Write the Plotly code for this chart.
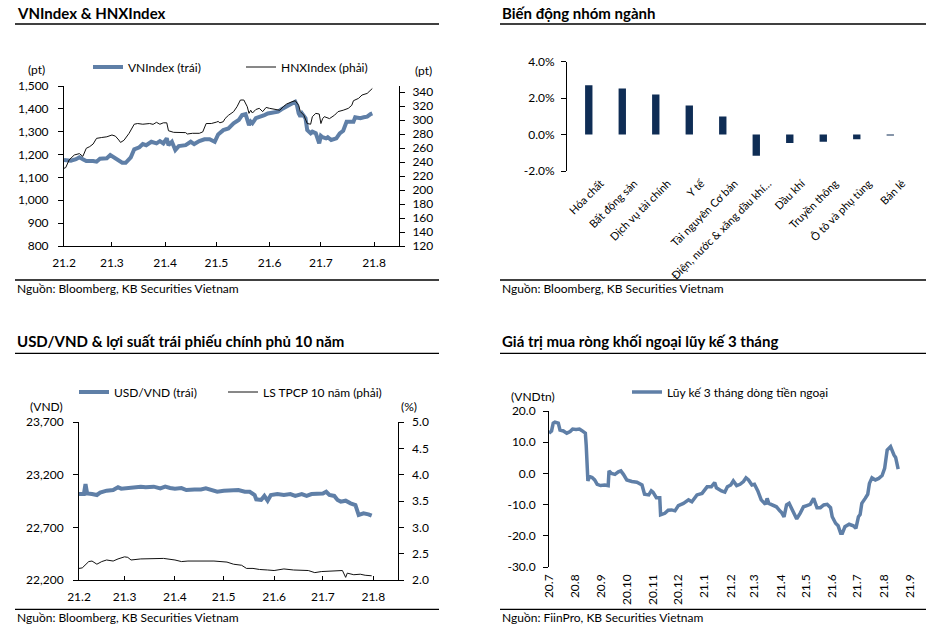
import plotly.graph_objects as go

# ---------------- DATA ----------------
vn_dates = ["2021-02-01","2021-02-05","2021-02-08","2021-02-10","2021-02-12","2021-02-14","2021-02-18","2021-02-20","2021-02-22","2021-02-26","2021-02-28",
            "2021-03-02","2021-03-04","2021-03-07","2021-03-09","2021-03-12","2021-03-14","2021-03-17","2021-03-19","2021-03-21","2021-03-24","2021-03-27","2021-03-29","2021-03-31",
            "2021-04-02","2021-04-03","2021-04-05","2021-04-07","2021-04-09","2021-04-13","2021-04-16","2021-04-18","2021-04-21","2021-04-24","2021-04-27","2021-04-29","2021-04-30",
            "2021-05-02","2021-05-05","2021-05-08","2021-05-11","2021-05-14","2021-05-16","2021-05-18","2021-05-20","2021-05-21","2021-05-22","2021-05-24","2021-05-27","2021-05-29","2021-05-31",
            "2021-06-03","2021-06-06","2021-06-08","2021-06-11","2021-06-13","2021-06-16","2021-06-17","2021-06-18","2021-06-19","2021-06-20","2021-06-22","2021-06-23","2021-06-25","2021-06-26","2021-06-28","2021-06-30",
            "2021-07-01","2021-07-02","2021-07-04","2021-07-05","2021-07-07","2021-07-10","2021-07-12","2021-07-14","2021-07-16","2021-07-20","2021-07-21","2021-07-24","2021-07-26","2021-07-28","2021-07-30","2021-07-31"]
vn_index = [1176,1173,1180,1188,1180,1172,1172,1169,1182,1184,1198,
            1188,1180,1164,1164,1188,1223,1232,1246,1241,1256,1249,1259,1249,
            1271,1241,1256,1220,1237,1241,1256,1246,1259,1267,1267,1259,1256,
            1288,1307,1314,1337,1351,1373,1377,1329,1344,1337,1359,1366,1373,1380,
            1383,1388,1398,1409,1421,1431,1416,1380,1366,1380,1359,1307,1293,1300,1293,1249,
            1282,1276,1271,1276,1264,1271,1293,1304,1344,1344,1363,1359,1363,1366,1377,1380]

hnx_dates = ["2021-02-01","2021-02-02","2021-02-04","2021-02-07","2021-02-10","2021-02-12","2021-02-14","2021-02-16","2021-02-18","2021-02-20","2021-02-23","2021-02-26",
             "2021-03-01","2021-03-03","2021-03-05","2021-03-06","2021-03-08","2021-03-11","2021-03-14","2021-03-16","2021-03-19","2021-03-23","2021-03-25","2021-03-27","2021-03-29","2021-03-31",
             "2021-04-02","2021-04-03","2021-04-06","2021-04-10","2021-04-13","2021-04-14","2021-04-17","2021-04-21","2021-04-23","2021-04-25","2021-04-28",
             "2021-05-01","2021-05-02","2021-05-03","2021-05-05","2021-05-06","2021-05-08","2021-05-11","2021-05-13","2021-05-15","2021-05-17","2021-05-19","2021-05-20","2021-05-21","2021-05-22","2021-05-24","2021-05-26","2021-05-28","2021-05-30",
             "2021-06-01","2021-06-04","2021-06-07","2021-06-09","2021-06-11","2021-06-14","2021-06-16","2021-06-18","2021-06-19","2021-06-21","2021-06-23","2021-06-25","2021-06-26","2021-06-28","2021-06-30",
             "2021-07-01","2021-07-02","2021-07-03","2021-07-06","2021-07-09","2021-07-11","2021-07-14","2021-07-17","2021-07-19","2021-07-20","2021-07-23","2021-07-25","2021-07-28","2021-07-31"]
hnx_index = [231,232,243,250,252,248,259.6,262,265.7,273.8,275,276,
             278.6,277,271.4,268,271,281,294,295,294,295,293.8,296.7,294,296,
             296,284.7,282.4,282.4,282,280,281,281,283,295,295,
             297,298,296,297.6,302,306.7,311.9,319,328.6,328.6,319,309.5,314,310,315,316.7,312,318,
             316.7,315,314,319,322.9,326,327.6,321,312,307,295,294,304.8,309.5,308.6,
             295,302,304.8,302,307,312,314,316.7,321,327.6,331,335.7,338,345]

sectors = ["Hóa chất", "Bất động sản", "Dịch vụ tài chính", "Y tế", "Tài nguyên Cơ bản",
           "Điện, nước & xăng dầu khí…", "Dầu khí", "Truyền thông", "Ô tô và phụ tùng", "Bán lẻ"]
sector_change = [2.70, 2.52, 2.19, 1.59, 0.99, -1.17, -0.47, -0.40, -0.26, -0.03]
sector_ticks = [-2, 0, 2, 4]
sector_ticktext = ["-2.0%", "0.0%", "2.0%", "4.0%"]

fx_dates = ["2021-02-01","2021-02-04","2021-02-05","2021-02-06","2021-02-09","2021-02-12","2021-02-14","2021-02-18","2021-02-22","2021-02-25","2021-02-27",
            "2021-03-03","2021-03-07","2021-03-11","2021-03-14","2021-03-19","2021-03-23","2021-03-26","2021-03-29",
            "2021-04-01","2021-04-05","2021-04-08","2021-04-13","2021-04-17","2021-04-20","2021-04-23","2021-04-27",
            "2021-05-01","2021-05-05","2021-05-10","2021-05-14","2021-05-17","2021-05-20","2021-05-21","2021-05-24","2021-05-26","2021-05-28","2021-05-30",
            "2021-06-03","2021-06-07","2021-06-11","2021-06-14","2021-06-18","2021-06-21","2021-06-24","2021-06-28",
            "2021-07-01","2021-07-03","2021-07-05","2021-07-08","2021-07-10","2021-07-12","2021-07-15","2021-07-18","2021-07-21","2021-07-23","2021-07-26","2021-07-29","2021-07-31"]
usd_vnd = [23016,23016,23111,23022,23016,23007,23029,23048,23054,23080,23067,
           23073,23080,23086,23080,23086,23070,23086,23073,
           23067,23073,23054,23060,23060,23070,23054,23038,
           23048,23048,23054,23038,23038,23007,22966,22960,22998,22953,23007,
           23016,23007,23016,22998,23016,22998,23016,23016,
           23022,23038,23007,22998,22960,22944,22953,22928,22912,22817,22833,22823,22811]

bond_dates = ["2021-02-01","2021-02-03","2021-02-07","2021-02-09","2021-02-12","2021-02-15","2021-02-18","2021-02-22","2021-02-25",
              "2021-03-01","2021-03-03","2021-03-05","2021-03-11","2021-03-19","2021-03-25",
              "2021-04-01","2021-04-05","2021-04-09","2021-04-17","2021-04-25",
              "2021-05-03","2021-05-07","2021-05-12","2021-05-15","2021-05-19","2021-05-23","2021-05-28",
              "2021-06-01","2021-06-07","2021-06-13","2021-06-22","2021-06-26","2021-06-30",
              "2021-07-06","2021-07-11","2021-07-13","2021-07-15","2021-07-16","2021-07-20","2021-07-24","2021-07-27","2021-07-31"]
bond_yield = [2.22,2.23,2.35,2.36,2.30,2.35,2.38,2.36,2.40,
              2.44,2.43,2.38,2.40,2.40,2.41,
              2.38,2.35,2.36,2.36,2.36,
              2.34,2.30,2.28,2.22,2.22,2.20,2.19,
              2.18,2.21,2.19,2.18,2.14,2.16,
              2.17,2.19,2.18,2.05,2.13,2.10,2.11,2.09,2.08]

flow_dates = ["2020-07-01","2020-07-04","2020-07-06","2020-07-08","2020-07-12","2020-07-14","2020-07-18","2020-07-22","2020-07-26","2020-07-29",
              "2020-08-02","2020-08-06","2020-08-09","2020-08-13","2020-08-14","2020-08-15","2020-08-16","2020-08-18","2020-08-21","2020-08-24","2020-08-27","2020-08-31",
              "2020-09-05","2020-09-09","2020-09-10","2020-09-13","2020-09-17","2020-09-21","2020-09-24","2020-09-27",
              "2020-10-01","2020-10-07","2020-10-13","2020-10-19","2020-10-22","2020-10-27","2020-10-30",
              "2020-11-01","2020-11-05","2020-11-09","2020-11-10","2020-11-15","2020-11-19","2020-11-23","2020-11-27",
              "2020-12-01","2020-12-07","2020-12-13","2020-12-17","2020-12-23","2020-12-29",
              "2021-01-04","2021-01-09","2021-01-13","2021-01-15","2021-01-21","2021-01-25","2021-01-28",
              "2021-02-01","2021-02-04","2021-02-08","2021-02-12","2021-02-16","2021-02-19","2021-02-22","2021-02-26",
              "2021-03-01","2021-03-05","2021-03-09","2021-03-14","2021-03-16","2021-03-18","2021-03-23","2021-03-27","2021-03-31",
              "2021-04-02","2021-04-05","2021-04-08","2021-04-11","2021-04-16","2021-04-20","2021-04-24","2021-04-28",
              "2021-05-02","2021-05-06","2021-05-10","2021-05-14","2021-05-18","2021-05-22","2021-05-26","2021-05-30",
              "2021-06-01","2021-06-05","2021-06-08","2021-06-11","2021-06-13","2021-06-16","2021-06-21","2021-06-26","2021-06-29",
              "2021-07-02","2021-07-04","2021-07-06","2021-07-10","2021-07-13","2021-07-15","2021-07-18","2021-07-22","2021-07-26","2021-07-30",
              "2021-08-02","2021-08-05","2021-08-09","2021-08-13","2021-08-15","2021-08-18"]
foreign_flow = [12.9,13.6,16.1,16.4,16.1,13.9,13.6,12.9,13.4,14.2,
                14.1,14.2,13.7,12.9,9.1,2.7,-2.4,-1.0,-1.3,-2.1,-3.5,-3.9,
                -3.7,-3.9,0.8,0.0,-0.3,0.5,0.8,-0.3,
                -2.1,-2.6,-2.8,-3.7,-6.7,-6.9,-5.6,
                -6.0,-7.8,-7.8,-13.3,-12.8,-11.8,-11.7,-12.0,
                -10.3,-9.6,-8.5,-9.1,-6.9,-6.4,
                -4.3,-4.3,-2.9,-4.6,-5.6,-6.0,-4.3,
                -3.7,-2.4,-3.9,-3.5,-2.6,-1.4,-2.1,-3.7,
                -3.5,-5.6,-8.5,-9.9,-8.0,-9.6,-10.3,-10.7,-12.0,
                -12.5,-13.9,-10.1,-9.6,-12.5,-14.6,-12.8,-10.7,
                -10.3,-9.9,-8.0,-11.0,-11.0,-10.1,-9.9,-11.0,
                -13.9,-16.0,-16.8,-19.2,-19.2,-17.1,-16.3,-16.8,-17.6,
                -13.9,-13.2,-9.6,-8.0,-6.7,-3.2,-1.4,-2.1,-1.6,-0.7,
                1.6,7.5,8.6,5.9,5.1,1.4]
flow_ticks = [-30, -20, -10, 0, 10, 20]
flow_ticktext = ["-30.0", "-20.0", "-10.0", "0.0", "10.0", "20.0"]

# ---------------- STYLE / LAYOUT HELPERS ----------------
W, H = 926, 626
def fx(px): return px / W
def fy(py): return 1 - py / H

FONT = "Lato"
BLUE = "#5f7fa7"
NAVY = "#0f2d55"
BLACK = "#000000"

fig = go.Figure()
fig.add_trace(go.Scatter(x=vn_dates, y=vn_index, mode="lines", name="VNIndex (trái)",
                         line=dict(color=BLUE, width=4), xaxis="x", yaxis="y", legend="legend"))
fig.add_trace(go.Scatter(x=hnx_dates, y=hnx_index, mode="lines", name="HNXIndex (phải)",
                         line=dict(color="#111111", width=1), xaxis="x", yaxis="y2", legend="legend",
                         legendwidth=100))
fig.add_trace(go.Bar(x=sectors, y=sector_change, marker=dict(color=NAVY, line=dict(width=0)), width=0.22,
                     xaxis="x2", yaxis="y3", showlegend=False))
fig.add_trace(go.Scatter(x=fx_dates, y=usd_vnd, mode="lines", name="USD/VND (trái)",
                         line=dict(color=BLUE, width=4), xaxis="x3", yaxis="y4", legend="legend2"))
fig.add_trace(go.Scatter(x=bond_dates, y=bond_yield, mode="lines", name="LS TPCP 10 năm (phải)",
                         line=dict(color="#111111", width=1), xaxis="x3", yaxis="y5", legend="legend2",
                         legendwidth=140))
fig.add_trace(go.Scatter(x=flow_dates, y=foreign_flow, mode="lines", name="Lũy kế 3 tháng dòng tiền ngoại",
                         line=dict(color=BLUE, width=3.5), xaxis="x4", yaxis="y6", legend="legend3"))

tickfont = dict(family=FONT, size=12, color=BLACK)
common = dict(showgrid=False, zeroline=False, linecolor=BLACK, linewidth=1, tickcolor=BLACK,
              tickwidth=1, tickfont=tickfont, automargin=False)

layout = dict(
    template="none",
    width=W, height=H, margin=dict(l=0, r=0, t=0, b=0, pad=0), autosize=False,
    paper_bgcolor="white", plot_bgcolor="white",
    font=dict(family=FONT, size=12, color=BLACK),
    showlegend=True,
    # panel 1
    xaxis=dict(common, domain=[fx(64), fx(399)], anchor="y", type="date",
               range=["2021-02-01", "2021-08-15 14:00"], tick0="2021-02-01", dtick="M1",
               tickformat="%y.%-m", ticks="inside", ticklen=4, showline=True, ticklabelstandoff=6),
    yaxis=dict(common, domain=[fy(246), fy(86)], anchor="x", range=[800, 1500], tick0=800, dtick=100,
               tickformat=",", ticks="outside", ticklen=5, showline=True, ticklabelstandoff=7),
    yaxis2=dict(common, overlaying="y", side="right", anchor="x", range=[120, 348.6], tick0=120,
                dtick=20, ticks="outside", ticklen=5, showline=True, ticklabelstandoff=5),
    yaxis7=dict(common, overlaying="y", side="right", anchor="x", range=[120, 348.6], tick0=120,
                dtick=20, ticks="inside", ticklen=5, showline=False, showticklabels=False),
    # panel 2
    xaxis2=dict(common, domain=[fx(567), fx(902)], anchor="y3", type="category",
                range=[-0.65, 9.35], ticks="", showline=False, tickangle=-45,
                ticklabelshift=12, ticklabelstandoff=3,
                tickfont=dict(family=FONT, size=11, color=BLACK)),
    yaxis3=dict(common, domain=[fy(171), fy(61.5)], anchor="x2", range=[-2, 4],
                tickvals=sector_ticks, ticktext=sector_ticktext, ticks="outside", ticklen=5,
                showline=True, ticklabelstandoff=4),
    xaxis5=dict(common, overlaying="x2", anchor="free", position=fy(134), type="linear",
                range=[-0.5, 9.5], tickvals=[i + 0.5 for i in range(len(sectors))],
                ticks="outside", ticklen=3, showline=True, showticklabels=False),
    # panel 3
    xaxis3=dict(common, domain=[fx(79), fx(397.7)], anchor="y4", type="date",
                range=["2021-02-01", "2021-08-16"], tick0="2021-02-01", dtick="M1",
                tickformat="%y.%-m", ticks="inside", ticklen=4, showline=True, ticklabelstandoff=6),
    yaxis4=dict(common, domain=[fy(580), fy(422)], anchor="x3", range=[22200, 23700], tick0=22200,
                dtick=500, tickformat=",", ticks="outside", ticklen=5, showline=True, ticklabelstandoff=7),
    yaxis5=dict(common, overlaying="y4", side="right", anchor="x3", range=[2, 5], tick0=2, dtick=0.5,
                tickformat=".1f", ticks="outside", ticklen=5, showline=True, ticklabelstandoff=6),
    yaxis8=dict(common, overlaying="y4", side="right", anchor="x3", range=[2, 5], tick0=2, dtick=0.5,
                ticks="inside", ticklen=5, showline=False, showticklabels=False),
    # panel 4
    xaxis4=dict(common, domain=[fx(549), fx(910)], anchor="y6", type="date",
                range=["2020-07-01", "2021-09-01"], tick0="2020-07-01", dtick="M1",
                tickformat="%y.%-m", tickangle=-90, ticks="", showline=False, ticklabelstandoff=4),
    yaxis6=dict(common, domain=[fy(567), fy(411)], anchor="x4", range=[-30, 20],
                tickvals=flow_ticks, ticktext=flow_ticktext, ticks="outside", ticklen=5,
                showline=True, ticklabelstandoff=5),
    xaxis6=dict(common, overlaying="x4", anchor="free", position=fy(473.4), type="date",
                range=["2020-07-01", "2021-09-01"], tick0="2020-07-01", dtick="M1",
                ticks="inside", ticklen=5, showline=True, showticklabels=False),
    legend=dict(orientation="h", x=fx(88), y=fy(67), xanchor="left", yanchor="middle",
                bgcolor="rgba(0,0,0,0)", font=dict(family=FONT, size=12, color=BLACK),
                entrywidth=108, entrywidthmode="pixels"),
    legend2=dict(orientation="h", x=fx(74), y=fy(392), xanchor="left", yanchor="middle",
                 bgcolor="rgba(0,0,0,0)", font=dict(family=FONT, size=12, color=BLACK),
                 entrywidth=104, entrywidthmode="pixels"),
    legend3=dict(orientation="h", x=fx(627), y=fy(392), xanchor="left", yanchor="middle",
                 bgcolor="rgba(0,0,0,0)", font=dict(family=FONT, size=12, color=BLACK)),
)
fig.update_layout(**layout)

# titles, footers, unit labels
texts = [
    ("<b>VNIndex &amp; HNXIndex</b>", 15, 12.5, "left", 15),
    ("<b>Biến động nhóm ngành</b>", 500, 12.5, "left", 15),
    ("<b>USD/VND &amp; lợi suất trái phiếu chính phủ 10 năm</b>", 15, 341, "left", 15),
    ("<b>Giá trị mua ròng khối ngoại lũy kế 3 tháng</b>", 500, 341, "left", 15),
    ("Nguồn: Bloomberg, KB Securities Vietnam", 15, 289, "left", 12),
    ("Nguồn: Bloomberg, KB Securities Vietnam", 500, 289, "left", 12),
    ("Nguồn: Bloomberg, KB Securities Vietnam", 15, 617, "left", 12),
    ("Nguồn: FiinPro, KB Securities Vietnam", 500, 617, "left", 12),
    ("(pt)", 36, 69, "center", 12),
    ("(pt)", 423, 70, "center", 12),
    ("(VND)", 46, 406, "center", 12),
    ("(%)", 408.5, 406, "center", 12),
    ("(VNDtn)", 533, 396, "center", 12),
]
for t, x, y, anc, size in texts:
    fig.add_annotation(text=t, x=fx(x), y=fy(y), xref="paper", yref="paper", xanchor=anc,
                       yanchor="middle", showarrow=False, font=dict(family=FONT, size=size, color=BLACK))

rules = [(15, 439, 24), (500, 926, 24), (15, 439, 280), (500, 926, 280),
         (15, 439, 353.3), (500, 926, 353.3), (15, 439, 609.3), (500, 926, 609.3)]
for x0, x1, y in rules:
    fig.add_shape(type="line", xref="paper", yref="paper", x0=fx(x0), x1=fx(x1), y0=fy(y), y1=fy(y),
                  line=dict(color=BLACK, width=1.3))

fig.write_html("out.html", config={"displayModeBar": False},
               post_script="document.body.style.margin='0px';")
